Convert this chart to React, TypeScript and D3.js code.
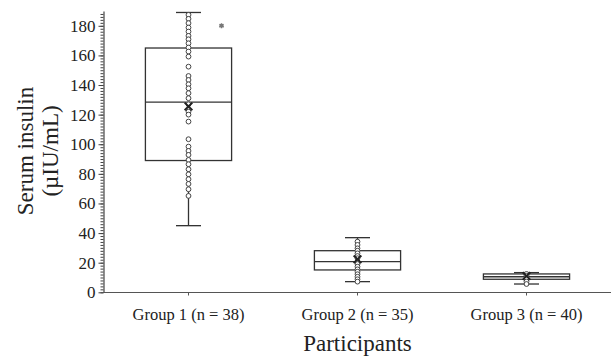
import React, { useEffect, useRef } from "react";
import * as d3 from "d3";

// groups and box statistics
const groups = ["Group 1 (n = 38)", "Group 2 (n = 35)", "Group 3 (n = 40)"];
const whiskerLow = [45, 7.2, 5.6];
const q1 = [89, 15.1, 8.8];
const median = [128.5, 20.7, 10.5];
const q3 = [165, 28.1, 12.4];
const whiskerHigh = [189, 36.9, 13.3];
const means = [125.5, 22.3, 11];

const points1 = [187.4, 184.7, 181.8, 178.8, 176.1, 173.2, 170.9, 168.2, 165.3, 162.6, 159.2, 152.4,
  146.1, 143.4, 140.5, 137.8, 134.5, 131.1, 127, 122, 120, 115.3, 103.4, 98.4, 95.5, 92.8, 89.4,
  86.5, 83.1, 79.7, 76.4, 73.2, 69.6, 65.1];
const points2 = [34.2, 32, 29.7, 28.1, 26.3, 24.5, 23, 20.7, 19.1, 17.3, 15.5, 13.9, 12.2, 10.5, 8.8, 7.2];
const points3 = [12.4, 11.2, 9.5, 7.2, 5.6];
const outliers = [{ group: 0, value: 180 }];

const yTicks = [0, 20, 40, 60, 80, 100, 120, 140, 160, 180];

const width = 611;
const height = 360;
const serif = "'Liberation Serif', 'Times New Roman', serif";

export default function App() {
  const ref = useRef<SVGSVGElement>(null);

  useEffect(() => {
    const svg = d3.select(ref.current);
    svg.selectAll("*").remove();

    const y = d3.scaleLinear().domain([0, 190]).range([292.3, 11]);
    const x = d3.scaleBand().domain(groups).range([104, 611]);
    const cx = (i: number) => (x(groups[i]) as number) + x.bandwidth() / 2;
    const boxW = x.bandwidth() * 0.51;
    const capW = 25;
    const ink = "#333";

    // y axis minor ticks
    svg.append("g")
      .attr("transform", "translate(103.5,0)")
      .call(d3.axisLeft(y).tickValues(d3.range(0, 190, 2)).tickSize(3).tickFormat(() => "").tickSizeOuter(0))
      .call(g => g.select(".domain").remove())
      .call(g => g.selectAll("line").attr("stroke", "#444"));

    // y axis major
    svg.append("g")
      .attr("transform", "translate(103.5,0)")
      .call(d3.axisLeft(y).tickValues(yTicks).tickSize(5).tickSizeOuter(0).tickPadding(3))
      .attr("font-family", null)
      .call(g => g.select(".domain").attr("stroke", "#444").attr("stroke-width", 1.2))
      .call(g => g.selectAll("line").attr("stroke", "#444"))
      .call(g => g.selectAll("text")
        .style("font-family", serif)
        .style("font-size", "17px")
        .attr("fill", "#222"));

    // x axis
    const xg = svg.append("g").attr("transform", "translate(0,292.5)");
    xg.append("line").attr("x1", 103).attr("x2", 611).attr("stroke", "#555").attr("stroke-width", 1.2);
    groups.forEach((gname, i) => {
      xg.append("line").attr("x1", cx(i)).attr("x2", cx(i)).attr("y1", 0).attr("y2", 3).attr("stroke", "#555");
      xg.append("text")
        .attr("x", cx(i))
        .attr("y", 27)
        .attr("text-anchor", "middle")
        .style("font-family", serif)
        .style("font-size", "16.5px")
        .attr("fill", "#222")
        .text(gname);
    });

    // boxes
    const pointSets = [points1, points2, points3];
    groups.forEach((gname, i) => {
      const c = cx(i);
      const g = svg.append("g");
      // whiskers
      g.append("line").attr("x1", c).attr("x2", c).attr("y1", y(whiskerHigh[i])).attr("y2", y(q3[i])).attr("stroke", ink).attr("stroke-width", 1.3);
      g.append("line").attr("x1", c).attr("x2", c).attr("y1", y(q1[i])).attr("y2", y(whiskerLow[i])).attr("stroke", ink).attr("stroke-width", 1.3);
      [whiskerHigh[i], whiskerLow[i]].forEach(v => {
        g.append("line").attr("x1", c - capW / 2).attr("x2", c + capW / 2).attr("y1", y(v)).attr("y2", y(v)).attr("stroke", ink).attr("stroke-width", 1.3);
      });
      g.append("rect")
        .attr("x", c - boxW / 2)
        .attr("y", y(q3[i]))
        .attr("width", boxW)
        .attr("height", y(q1[i]) - y(q3[i]))
        .attr("fill", "none")
        .attr("stroke", ink)
        .attr("stroke-width", 1.3);
      g.append("line").attr("x1", c - boxW / 2).attr("x2", c + boxW / 2).attr("y1", y(median[i])).attr("y2", y(median[i])).attr("stroke", ink).attr("stroke-width", 1.3);

      // points
      g.selectAll("circle")
        .data(pointSets[i])
        .enter()
        .append("circle")
        .attr("cx", c)
        .attr("cy", d => y(d))
        .attr("r", 2.4)
        .attr("fill", "white")
        .attr("stroke", "#444")
        .attr("stroke-width", 1);

      // mean marker
      g.append("path")
        .attr("d", d3.symbol().type(d3.symbolX).size(40)())
        .attr("transform", `translate(${c},${y(means[i])})`)
        .attr("stroke", "#222")
        .attr("stroke-width", 2);
    });

    // outliers
    outliers.forEach(o => {
      svg.append("path")
        .attr("d", d3.symbol().type(d3.symbolAsterisk).size(18)())
        .attr("transform", `translate(${cx(o.group) + 33},${y(o.value)})`)
        .attr("stroke", "#777")
        .attr("stroke-width", 1.5);
    });

    // axis titles
    const yt = svg.append("text")
      .attr("transform", "translate(0,151) rotate(-90)")
      .attr("text-anchor", "middle")
      .style("font-family", serif)
      .style("font-size", "23px")
      .attr("fill", "#222");
    yt.append("tspan").attr("x", 0).attr("y", 33).text("Serum insulin");
    yt.append("tspan").attr("x", 0).attr("y", 58).text("(µIU/mL)");

    svg.append("text")
      .attr("x", x(groups[1]) as number + x.bandwidth() / 2)
      .attr("y", 351)
      .attr("text-anchor", "middle")
      .style("font-family", serif)
      .style("font-size", "23px")
      .attr("fill", "#222")
      .text("Participants");
  }, []);

  return (
    <svg
      ref={ref}
      width={width}
      height={height}
      style={{ position: "absolute", left: 0, top: 0, background: "white" }}
    />
  );
}
